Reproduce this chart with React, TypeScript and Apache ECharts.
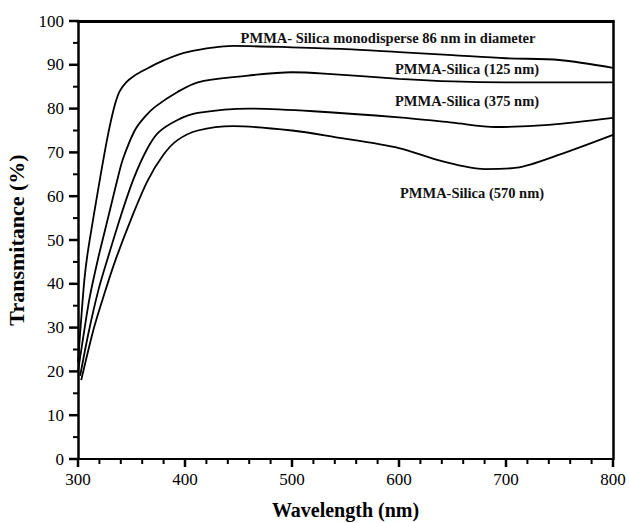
import React, { useEffect, useRef } from "react";
import * as echarts from "echarts";

const xMajorTicks = [300, 400, 500, 600, 700, 800];
const xMinorTicks = [320, 340, 360, 380, 420, 440, 460, 480, 520, 540, 560, 580, 620, 640, 660, 680, 720, 740, 760, 780];
const yMajorTicks = [0, 10, 20, 30, 40, 50, 60, 70, 80, 90, 100];
const yMinorTicks = [5, 15, 25, 35, 45, 55, 65, 75, 85, 95];

const wl86 = [300, 303, 306, 309, 315, 322, 328, 334, 339, 345, 352, 362, 380, 400, 445, 500, 550, 600, 650, 700, 750, 800];
const t86 = [22, 32, 41, 47, 56, 66, 74, 80.5, 84, 86, 87.4, 88.8, 91, 92.8, 94.3, 94, 93.6, 92.9, 92.2, 91.5, 91.1, 89.3];

const wl125 = [300, 305, 311, 319, 325, 331, 337, 342, 353, 362, 372, 393, 412, 450, 500, 530, 600, 650, 700, 800];
const t125 = [20, 28, 37, 46, 52, 58, 64, 68.5, 75, 78, 80.4, 83.8, 86, 87.3, 88.3, 88, 86.8, 86.2, 86, 86];

const wl375 = [302, 310, 319, 328, 340, 352, 364, 375, 393, 412, 460, 520, 600, 650, 690, 740, 800];
const t375 = [19, 29, 38.5, 46, 55.5, 64, 70.5, 74.5, 77.4, 79, 80, 79.4, 78, 76.8, 75.8, 76.3, 77.9];

const wl570 = [303, 315, 325, 335, 350, 365, 380, 393, 412, 445, 500, 540, 600, 640, 680, 710, 750, 800];
const t570 = [18, 30, 38, 45.4, 55, 63.5, 69.5, 72.8, 75, 76, 75, 73.5, 71, 68, 66.2, 66.5, 69.5, 74];

const seriesNames = [
  "PMMA- Silica monodisperse 86 nm in diameter",
  "PMMA-Silica (125 nm)",
  "PMMA-Silica (375 nm)",
  "PMMA-Silica (570 nm)",
];

const zip = (xs: number[], ys: number[]) => xs.map((x, i) => [x, ys[i]]);

export default function App() {
  const ref = useRef<HTMLDivElement>(null);
  useEffect(() => {
    if (!ref.current) return;
    const chart = echarts.init(ref.current, null, { renderer: "svg" });
    const font = "'Liberation Serif', 'DejaVu Serif', serif";
    const datasets = [zip(wl86, t86), zip(wl125, t125), zip(wl375, t375), zip(wl570, t570)];
    const labelPos = [
      { x: 388, y: 38 },
      { x: 467, y: 69 },
      { x: 467, y: 101 },
      { x: 472, y: 193 },
    ];
    chart.setOption({
      animation: false,
      backgroundColor: "#ffffff",
      grid: {
        left: 78,
        right: 16,
        top: 21,
        bottom: 64,
        containLabel: false,
        outerBoundsMode: "none",
        show: false,
      },
      xAxis: [
        {
          type: "value",
          min: 300,
          max: 800,
          interval: 100,
          position: "bottom",
          name: "Wavelength (nm)",
          nameLocation: "middle",
          nameGap: 41,
          nameTextStyle: { fontFamily: font, fontWeight: "bold", fontSize: 20, color: "#000" },
          axisLine: { show: true, onZero: false, lineStyle: { color: "#000", width: 2 } },
          axisTick: { show: false },
          minorTick: { show: false },
          splitLine: { show: false },
          axisLabel: {
            show: true,
            fontFamily: font,
            fontSize: 17,
            color: "#000",
            margin: 12,
          },
        },
        {
          type: "value",
          min: 300,
          max: 800,
          interval: 100,
          position: "top",
          axisLine: { show: true, onZero: false, lineStyle: { color: "#000", width: 3 } },
          axisTick: { show: false },
          axisLabel: { show: false },
          splitLine: { show: false },
        },
      ],
      yAxis: [
        {
          type: "value",
          min: 0,
          max: 100,
          interval: 10,
          position: "left",
          name: "Transmitance (%)",
          nameLocation: "middle",
          nameGap: 49,
          nameTextStyle: { fontFamily: font, fontWeight: "bold", fontSize: 22, color: "#000" },
          axisLine: { show: true, onZero: false, lineStyle: { color: "#000", width: 2.5 } },
          axisTick: { show: false },
          minorTick: { show: false },
          splitLine: { show: false },
          axisLabel: { show: true, fontFamily: font, fontSize: 17, color: "#000", margin: 14 },
        },
        {
          type: "value",
          min: 0,
          max: 100,
          interval: 10,
          position: "right",
          axisLine: { show: true, onZero: false, lineStyle: { color: "#000", width: 2.5 } },
          axisTick: { show: false },
          axisLabel: { show: false },
          splitLine: { show: false },
        },
      ],
      series: datasets.map((d, i) => ({
        name: seriesNames[i],
        type: "line",
        data: d,
        smooth: 0.3,
        showSymbol: false,
        symbol: "none",
        lineStyle: { color: "#000", width: 1.8 },
      })),
    });

    const y0 = chart.convertToPixel({ yAxisIndex: 0 }, 0) as number;
    const x0 = chart.convertToPixel({ xAxisIndex: 0 }, 300) as number;
    const tickEls: any[] = [];
    const xTick = (v: number, len: number, w: number) => {
      const px = chart.convertToPixel({ xAxisIndex: 0 }, v) as number;
      tickEls.push({
        type: "line",
        shape: { x1: px, y1: y0, x2: px, y2: y0 + len },
        style: { stroke: "#000", lineWidth: w },
        z: 10,
      });
    };
    const yTick = (v: number, len: number, w: number) => {
      const py = chart.convertToPixel({ yAxisIndex: 0 }, v) as number;
      tickEls.push({
        type: "line",
        shape: { x1: x0, y1: py, x2: x0 - len, y2: py },
        style: { stroke: "#000", lineWidth: w },
        z: 10,
      });
    };
    xMajorTicks.forEach((v) => xTick(v, 8, 2.5));
    xMinorTicks.forEach((v) => xTick(v, 5, 2));
    yMajorTicks.forEach((v) => yTick(v, 9, 2.5));
    yMinorTicks.forEach((v) => yTick(v, 5, 2));

    const labelEls = seriesNames.map((n, i) => ({
      type: "text",
      x: labelPos[i].x,
      y: labelPos[i].y,
      style: {
        text: n,
        fontFamily: font,
        fontWeight: "bold",
        fontSize: 14.5,
        fill: "#111",
        textAlign: "center",
        textVerticalAlign: "middle",
      },
    }));

    chart.setOption({ graphic: [...labelEls, ...tickEls] });
    return () => chart.dispose();
  }, []);
  return (
    <div
      ref={ref}
      style={{ position: "absolute", left: 0, top: 0, width: 629, height: 523 }}
    />
  );
}
